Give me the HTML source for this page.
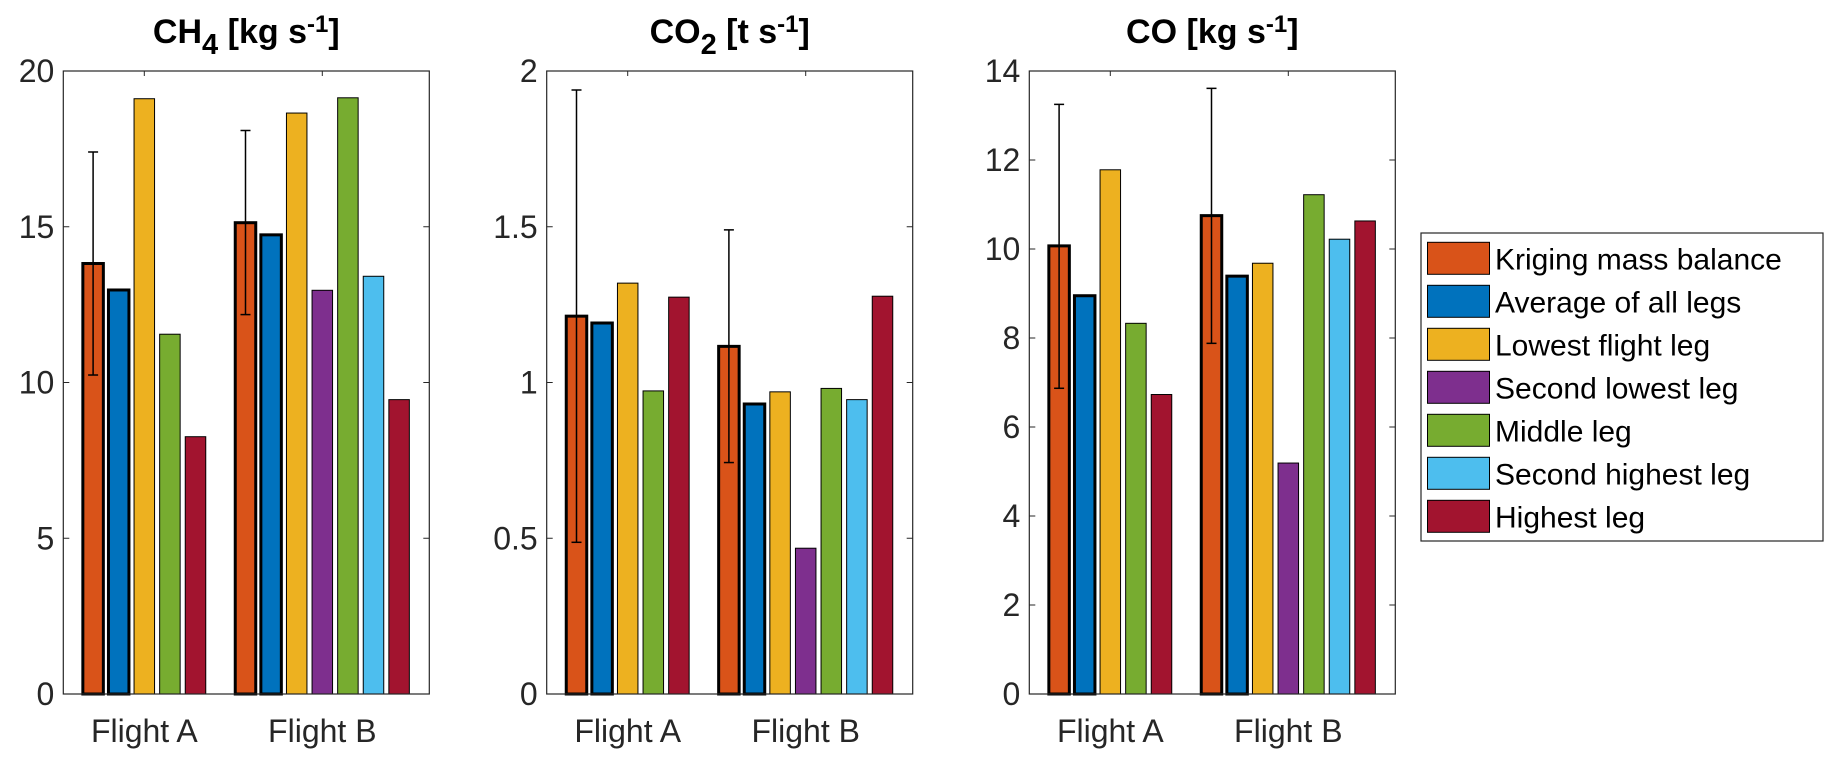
<!DOCTYPE html>
<html><head><meta charset="utf-8"><style>
html,body{margin:0;padding:0;background:#fff;width:1840px;height:762px;overflow:hidden}
svg{display:block}
text{font-family:"Liberation Sans",Arial,sans-serif;fill:#262626}
</style></head><body>
<svg id="chart" width="1840" height="762" viewBox="0 0 1840 762"></svg>
<script>
const categories = ["Flight A", "Flight B"];
const seriesNames = ["Kriging mass balance","Average of all legs","Lowest flight leg","Second lowest leg","Middle leg","Second highest leg","Highest leg"];
const seriesColors = ["#D95319","#0072BD","#EDB120","#7E2F8E","#77AC30","#4DBEEE","#A2142F"];
const ch4Values = [[13.82,15.13],[12.97,14.74],[19.11,18.65],[null,12.96],[11.55,19.14],[null,13.41],[8.26,9.45]];
const ch4ErrLow = [10.24,12.18];
const ch4ErrHigh = [17.40,18.09];
const co2Values = [[1.213,1.116],[1.191,0.931],[1.319,0.970],[null,0.468],[0.973,0.981],[null,0.945],[1.274,1.277]];
const co2ErrLow = [0.487,0.743];
const co2ErrHigh = [1.939,1.49];
const coValues = [[10.07,10.75],[8.95,9.39],[11.78,9.68],[null,5.19],[8.33,11.22],[null,10.22],[6.73,10.63]];
const coErrLow = [6.87,7.88];
const coErrHigh = [13.25,13.61];
const ch4Ticks = [0,5,10,15,20];
const co2Ticks = [0,0.5,1,1.5,2];
const coTicks = [0,2,4,6,8,10,12,14];

const NS = "http://www.w3.org/2000/svg";
const svg = document.getElementById('chart');
function mk(tag, attrs, parent){const e=document.createElementNS(NS,tag);for(const k in attrs)e.setAttribute(k,attrs[k]);(parent||svg).appendChild(e);return e;}

function panel(key, left, titleMain, titleSub, titleRest, titleSup, titleEnd, values, errLow, errHigh, ticks, ymax){
  const g = mk('g',{});
  
  
  const W=366, top=71, bottom=694, H=bottom-top;
  const right=left+W;
  const y = v => bottom - v/ymax*H;
  const tickX = [left+81, left+259];
  const pitch = 25.6, bw = 20.5;
  const bg = mk('rect',{x:left,y:top,width:W,height:H,fill:'#fff'},g);
  
  
  categories.forEach((cat,ci)=>{
    const present = [];
    values.forEach((s,si)=>{ if(s[ci]!==null) present.push(si); });
    const n = present.length;
    present.forEach((si,k)=>{
      const cx = tickX[ci] + (k-(n-1)/2)*pitch;
      const v = values[si][ci];
      const thick = si<2;
      const r = mk('rect',{x:cx-bw/2,y:y(v),width:bw,height:bottom-y(v),fill:seriesColors[si],stroke:'#000','stroke-width':thick?3:1},g);
      
      
      if(si===0){
        const eg = mk('g',{stroke:'#000','stroke-width':1.5},g);
        
        
        mk('line',{x1:cx,x2:cx,y1:y(errLow[ci]),y2:y(errHigh[ci])},eg);
        mk('line',{x1:cx-5,x2:cx+5,y1:y(errLow[ci]),y2:y(errLow[ci])},eg);
        mk('line',{x1:cx-5,x2:cx+5,y1:y(errHigh[ci]),y2:y(errHigh[ci])},eg);
      }
    });
    const lab = mk('text',{x:tickX[ci],y:742,'font-size':32,'text-anchor':'middle'},g);
    lab.textContent = cat;
    
    
    mk('line',{x1:tickX[ci],x2:tickX[ci],y1:top,y2:top+5,stroke:'#262626','stroke-width':1},g);
  });
  const box = mk('rect',{x:left,y:top,width:W,height:H,fill:'none',stroke:'#262626','stroke-width':1.2},g);
  
  
  ticks.forEach(t=>{
    const ty=y(t);
    mk('line',{x1:left,x2:left+6,y1:ty,y2:ty,stroke:'#262626','stroke-width':1},g);
    mk('line',{x1:right-6,x2:right,y1:ty,y2:ty,stroke:'#262626','stroke-width':1},g);
    const tl = mk('text',{x:left-9,y:ty+11,'font-size':32,'text-anchor':'end'},g);
    tl.textContent = String(t);
    
    
  });
  const title = mk('text',{x:left+W/2,y:43,'font-size':34,'font-weight':'bold','text-anchor':'middle',style:'fill:#000'},g);
  
  
  let s1=mk('tspan',{},title); s1.textContent=titleMain;
  if(titleSub){let s=mk('tspan',{dy:11,'font-size':29},title); s.textContent=titleSub;}
  let s2=mk('tspan',{dy:titleSub?-11:0},title); s2.textContent=titleRest;
  let s3=mk('tspan',{dy:-11,'font-size':24},title); s3.textContent=titleSup;
  let s4=mk('tspan',{dy:11},title); s4.textContent=titleEnd;
}
panel('ch4',63.3,'CH','4',' [kg s','-1',']',ch4Values,ch4ErrLow,ch4ErrHigh,ch4Ticks,20);
panel('co2',546.7,'CO','2',' [t s','-1',']',co2Values,co2ErrLow,co2ErrHigh,co2Ticks,2);
panel('co',1029.3,'CO','',' [kg s','-1',']',coValues,coErrLow,coErrHigh,coTicks,14);

const lg = mk('g',{});


mk('rect',{x:1421,y:233,width:402,height:308,fill:'#fff',stroke:'#262626','stroke-width':1.2},lg);
seriesNames.forEach((nm,i)=>{
  const ry = 242.3 + i*43;
  const e = mk('g',{},lg);
  
  
  mk('rect',{x:1427.5,y:ry,width:62,height:32,fill:seriesColors[i],stroke:'#000','stroke-width':1},e);
  const t = mk('text',{x:1495,y:ry+27,'font-size':30,style:'fill:#000'},e);
  t.textContent = nm;
});
</script>
</body></html>
